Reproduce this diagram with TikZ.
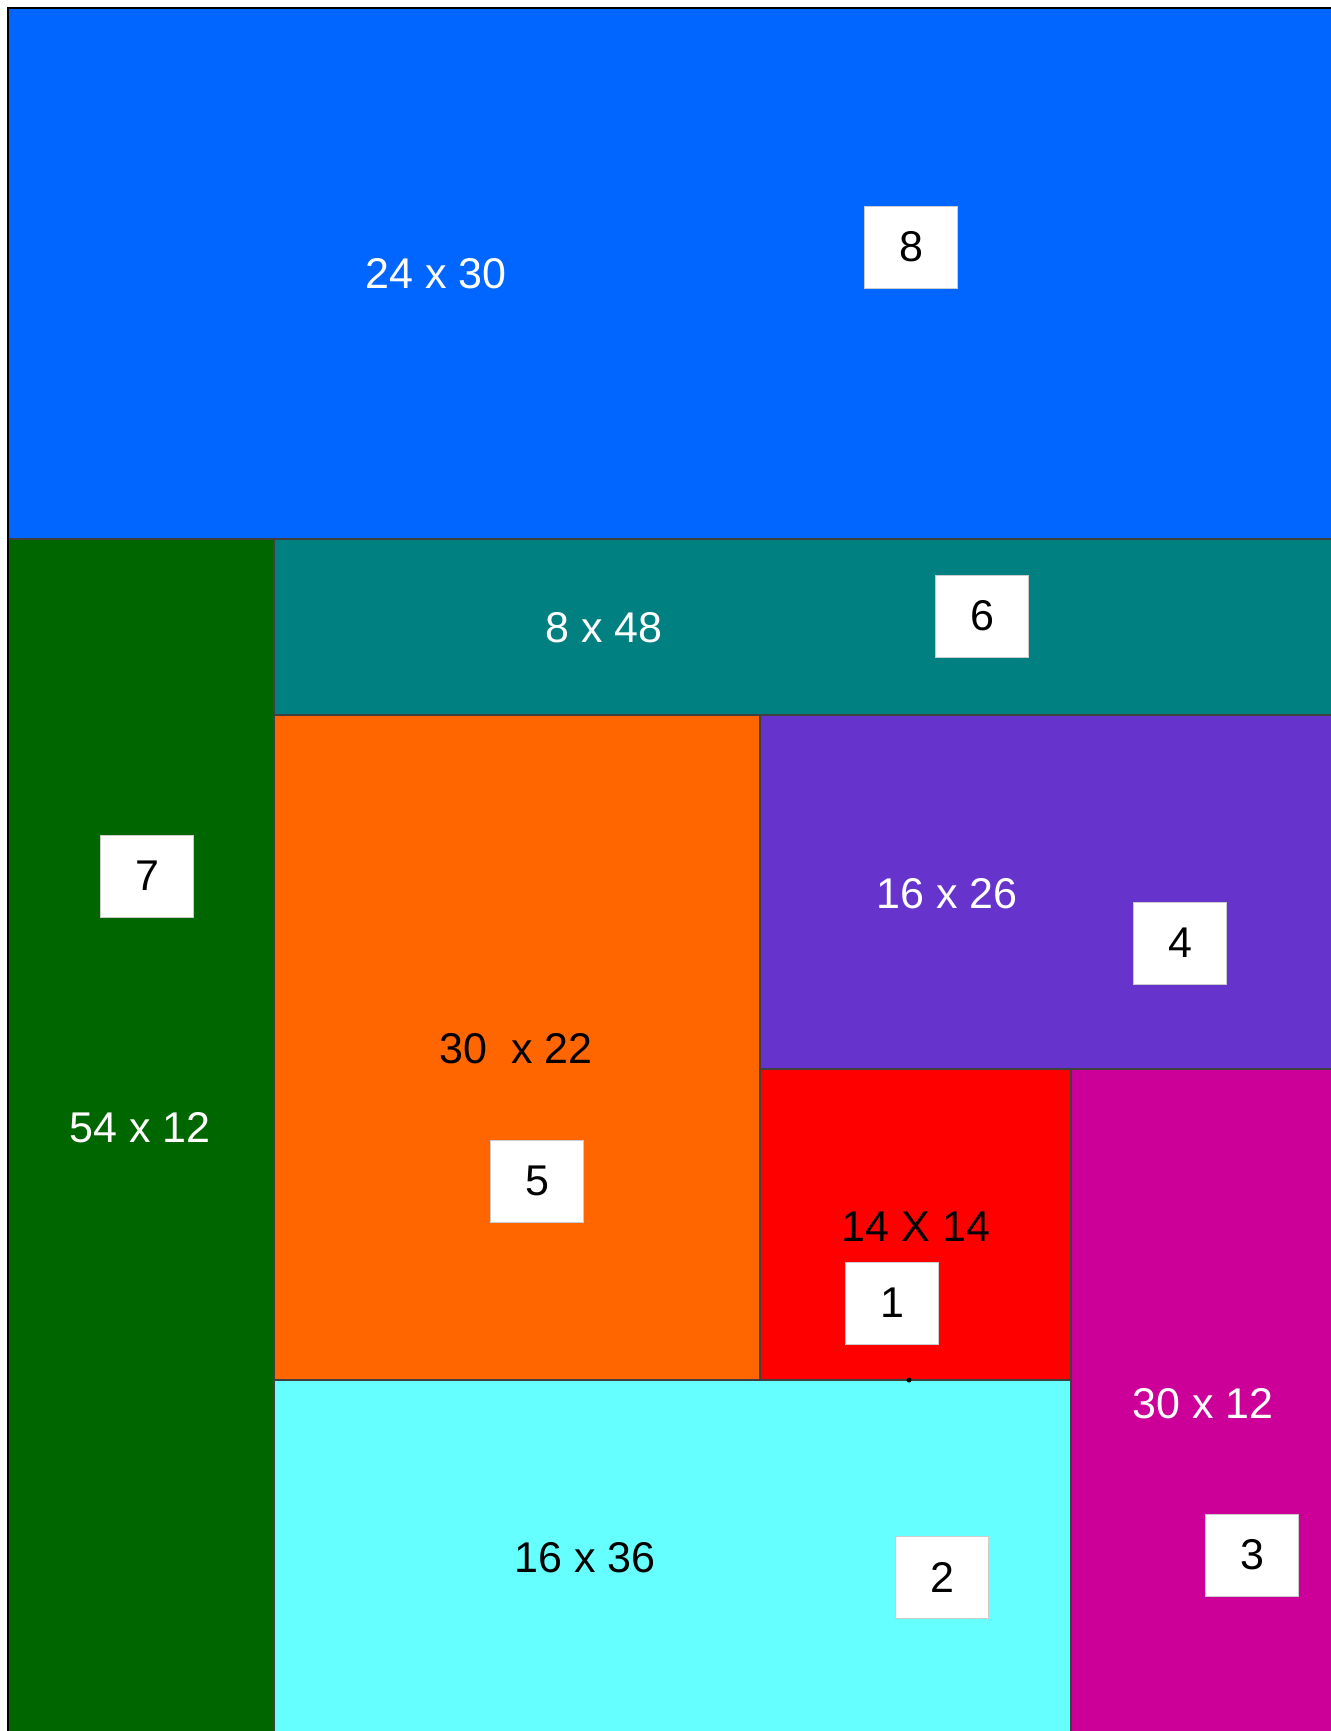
\documentclass[tikz,border=0pt]{standalone}
\usepackage{fontspec}
\setmainfont{Liberation Sans}
\definecolor{skyblue}{HTML}{0066FF}
\definecolor{seateal}{HTML}{008080}
\definecolor{pine}{HTML}{006600}
\definecolor{pumpkin}{HTML}{FF6600}
\definecolor{violet}{HTML}{6633CC}
\definecolor{scarlet}{HTML}{FF0000}
\definecolor{aqua}{HTML}{66FFFF}
\definecolor{fuchsia}{HTML}{CC0099}
\tikzset{
  every node/.style={font=\fontsize{21.5}{26}\selectfont},
  region/.style={draw=black!75,line width=.6pt},
  dims/.style={inner sep=0,text=white},
  darkdims/.style={inner sep=0,text=black},
  tag/.style={draw=black!20,line width=.4pt,fill=white,minimum width=46.5pt,minimum height=41pt,inner sep=0}
}
\begin{document}
\begin{tikzpicture}[x=.5pt,y=-.5pt]
\clip (0,0) rectangle (1331,1731);
\fill[white] (0,0) rectangle (1331,1731);
\draw[region,fill=skyblue] (8,8) rectangle (1340,539);
\draw[region,fill=seateal] (274,539) rectangle (1340,715);
\draw[region,fill=pine] (8,539) rectangle (274,1740);
\draw[region,fill=pumpkin] (274,715) rectangle (760,1380);
\draw[region,fill=violet] (760,715) rectangle (1340,1069);
\draw[region,fill=scarlet] (760,1069) rectangle (1071,1380);
\draw[region,fill=aqua] (274,1380) rectangle (1071,1740);
\draw[region,fill=fuchsia] (1071,1069) rectangle (1340,1740);
\draw[line width=1.3pt] (8,1740) -- (8,8) -- (1340,8);
\fill (909,1380) circle (2.5);
\node[dims] (size8) at (436,274) {24 x 30};
\node[dims] (size6) at (604,628) {8 x 48};
\node[dims] (size7) at (140,1128) {54 x 12};
\node[dims] (size4) at (947,894) {16 x 26};
\node[darkdims] (size5) at (516,1049) {30\ \ x 22};
\node[darkdims] (size1) at (916,1227) {14 X 14};
\node[dims] (size3) at (1203,1404) {30 x 12};
\node[darkdims] (size2) at (585,1558) {16 x 36};
\node[tag] (tag8) at (911,247) {8};
\node[tag] (tag6) at (982,616) {6};
\node[tag] (tag7) at (147,876) {7};
\node[tag] (tag4) at (1180,943) {4};
\node[tag] (tag5) at (537,1181) {5};
\node[tag] (tag1) at (892,1303) {1};
\node[tag] (tag2) at (942,1577) {2};
\node[tag] (tag3) at (1252,1555) {3};
\end{tikzpicture}
\end{document}
